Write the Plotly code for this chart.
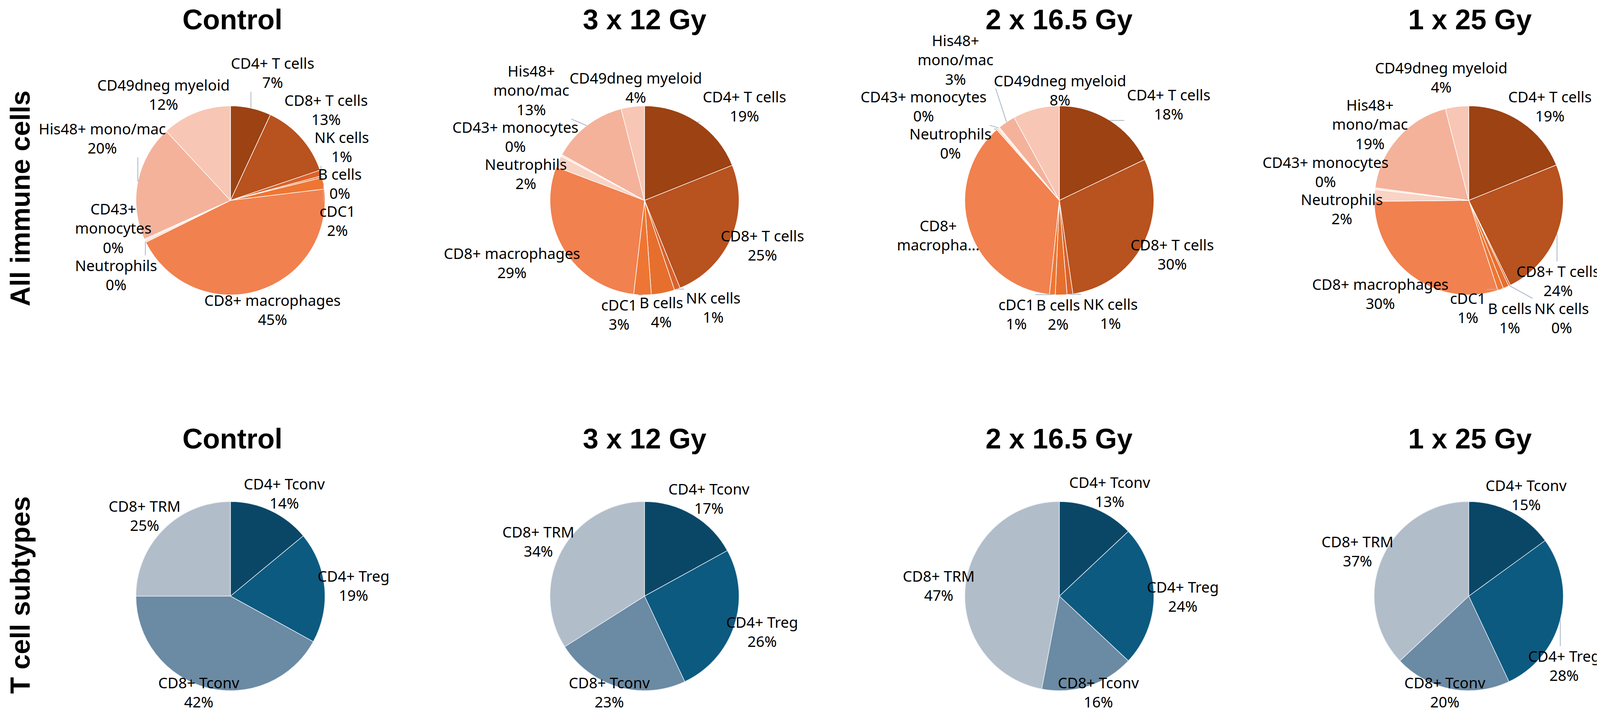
import numpy as np
import plotly.graph_objects as go

W, H = 4195, 1838

groups = ["Control", "3 x 12 Gy", "2 x 16.5 Gy", "1 x 25 Gy"]
row_titles = ["All immune cells", "T cell subtypes"]

immune_cells = ["CD4+ T cells", "CD8+ T cells", "NK cells", "B cells", "cDC1",
                "CD8+ macrophages", "Neutrophils", "CD43+ monocytes",
                "His48+ mono/mac", "CD49dneg myeloid"]
immune_control = [7, 13, 1, 0.3, 2, 45, 0.3, 0.3, 20, 12]
immune_3x12 = [19, 25, 1, 4, 3, 29, 2, 0.3, 13, 4]
immune_2x165 = [18, 30, 1, 2, 1, 37, 0.3, 0.3, 3, 8]
immune_1x25 = [19, 24, 0.3, 1, 1, 30, 2, 0.3, 19, 4]

# label text as printed on each chart ("..." = truncated, no percentage shown)
immune_text_control = ["CD4+ T cells", "CD8+ T cells", "NK cells", "B cells", "cDC1",
                       "CD8+ macrophages", "Neutrophils", "CD43+<br>monocytes",
                       "His48+ mono/mac", "CD49dneg myeloid"]
immune_text_3x12 = ["CD4+ T cells", "CD8+ T cells", "NK cells", "B cells", "cDC1",
                    "CD8+ macrophages", "Neutrophils", "CD43+ monocytes",
                    "His48+<br>mono/mac", "CD49dneg myeloid"]
immune_text_2x165 = ["CD4+ T cells", "CD8+ T cells", "NK cells", "B cells", "cDC1",
                     "CD8+<br>macropha...", "Neutrophils", "CD43+ monocytes",
                     "His48+<br>mono/mac", "CD49dneg myeloid"]
immune_text_1x25 = ["CD4+ T cells", "CD8+ T cells", "NK cells", "B cells", "cDC1",
                    "CD8+ macrophages", "Neutrophils", "CD43+ monocytes",
                    "His48+<br>mono/mac", "CD49dneg myeloid"]

tcell_types = ["CD4+ Tconv", "CD4+ Treg", "CD8+ Tconv", "CD8+ TRM"]
tcell_control = [14, 19, 42, 25]
tcell_3x12 = [17, 26, 23, 34]
tcell_2x165 = [13, 24, 16, 47]
tcell_1x25 = [15, 28, 20, 37]

immune_colors = ["#9C4213", "#B8521E", "#D9622A", "#E66F2E", "#EE7634",
                 "#F1814F", "#F9D3C4", "#FCE6DC", "#F4B29B", "#F8C6B4"]
tcell_colors = ["#0A4767", "#0C5A80", "#6B8AA3", "#B2BDCA"]

immune_vals = [immune_control, immune_3x12, immune_2x165, immune_1x25]
immune_texts = [immune_text_control, immune_text_3x12, immune_text_2x165, immune_text_1x25]
tcell_vals = [tcell_control, tcell_3x12, tcell_2x165, tcell_1x25]

col_cx = [582, 1642, 2704, 3752]
row_cy = [505, 1518]
R = 242
FS = 38
FONT = "Noto Sans, Open Sans, sans-serif"


def dom(cx, cy):
    return dict(x=[(cx - R) / W, (cx + R) / W],
                y=[1 - (cy + R) / H, 1 - (cy - R) / H])


def text_w(s):
    w = 0
    for ch in s:
        if ch in " il.":
            w += 0.27
        elif ch == "m":
            w += 0.94
        elif ch == "%":
            w += 0.84
        elif ch.isupper():
            w += 0.66
        else:
            w += 0.57
    return w * FS


def place_labels(cx, cy, vals, texts):
    # Excel-like "best fit": label just outside the slice middle, then de-overlap
    tot = float(sum(vals))
    cum = 0.0
    items = []
    for v, t in zip(vals, texts):
        th = 2 * np.pi * (cum + v / 2) / tot
        cum += v
        lines = t.split("<br>")
        if not t.endswith("..."):
            lines = lines + ["%.0f%%" % v]
        w = max(text_w(l) for l in lines) + 4
        h = len(lines) * 1.3 * FS
        s, c = np.sin(th), np.cos(th)
        x = cx + R * s + 0.75 * s * w / 2
        y = cy - R * c - c * h / 2
        items.append(dict(x=x, y=y, x0=x, y0=y, w=w, h=h, s=s, c=c,
                          ex=cx + R * s, ey=cy - R * c, text="<br>".join(lines)))
    pad = -4
    for _ in range(400):
        for i in range(len(items)):
            for j in range(i + 1, len(items)):
                a, b = items[i], items[j]
                ox = (a["w"] + b["w"]) / 2 + pad - abs(a["x"] - b["x"])
                oy = (a["h"] + b["h"]) / 2 + pad - abs(a["y"] - b["y"])
                if ox > 0 and oy > 0:
                    if (abs(a["c"]) + abs(b["c"])) / 2 > 0.85:
                        sg = 1 if a["ex"] >= b["ex"] else -1
                        a["x"] += sg * ox / 2
                        b["x"] -= sg * ox / 2
                    else:
                        sg = 1 if a["ey"] >= b["ey"] else -1
                        a["y"] += sg * oy / 2
                        b["y"] -= sg * oy / 2
        for it in items:
            px = min(max(cx, it["x"] - it["w"] / 2), it["x"] + it["w"] / 2)
            py = min(max(cy, it["y"] - it["h"] / 2), it["y"] + it["h"] / 2)
            dist = np.hypot(px - cx, py - cy)
            lim = R * 0.8
            if dist < lim:
                vx, vy = it["x"] - cx, it["y"] - cy
                n = np.hypot(vx, vy) or 1.0
                it["x"] += vx / n * (lim - dist)
                it["y"] += vy / n * (lim - dist)
            it["x"] = min(max(it["x"], it["w"] / 2 + 85), W - it["w"] / 2 - 100)
            it["y"] = min(max(it["y"], it["h"] / 2 + 70), H - it["h"] / 2 - 25)
    return items


fig = go.Figure()
label_font = dict(family=FONT, size=FS, color="black")
shapes = []
annots = []


def add_pie(labels, vals, texts, colors, cx, cy, line_color):
    fig.add_trace(go.Pie(
        labels=labels, values=vals, textinfo="none",
        marker=dict(colors=colors, line=dict(color=line_color, width=1.5)),
        sort=False, direction="clockwise", rotation=0,
        domain=dom(cx, cy), showlegend=False, hoverinfo="label+value",
    ))
    for it in place_labels(cx, cy, vals, texts):
        annots.append(dict(text=it["text"], x=it["x"] / W, y=1 - it["y"] / H,
                           xref="paper", yref="paper", showarrow=False,
                           xanchor="center", yanchor="middle", font=label_font))
        if np.hypot(it["x"] - it["x0"], it["y"] - it["y0"]) > 40:
            bx = min(max(it["ex"], it["x"] - it["w"] / 2), it["x"] + it["w"] / 2)
            by = min(max(it["ey"], it["y"] - it["h"] / 2), it["y"] + it["h"] / 2)
            shapes.append(dict(type="line", xref="paper", yref="paper",
                               x0=it["ex"] / W, y0=1 - it["ey"] / H,
                               x1=bx / W, y1=1 - by / H,
                               line=dict(color="#A9B6C3", width=2)))


for i in range(4):
    add_pie(immune_cells, immune_vals[i], immune_texts[i], immune_colors,
            col_cx[i], row_cy[0], "white")
    add_pie(tcell_types, tcell_vals[i], tcell_types, tcell_colors,
            col_cx[i], row_cy[1], "#E8EEF3")

title_x = [587, 1642, 2703, 3755]
title_y = [42, 1115]
title_font = dict(family="Liberation Sans, Arial, sans-serif", size=72, color="black")
for r in range(2):
    for i, g in enumerate(groups):
        annots.append(dict(text="<b>%s</b>" % g, x=title_x[i] / W, y=1 - title_y[r] / H,
                           xref="paper", yref="paper", showarrow=False,
                           xanchor="center", yanchor="middle", font=title_font))

row_y = [500, 1515]
for r, t in enumerate(row_titles):
    annots.append(dict(text="<b>%s</b>" % t, x=44 / W, y=1 - row_y[r] / H,
                       xref="paper", yref="paper", showarrow=False, textangle=-90,
                       xanchor="center", yanchor="middle",
                       font=dict(family="Liberation Sans, Arial, sans-serif", size=70,
                                 color="black")))

fig.update_layout(width=W, height=H, margin=dict(l=0, r=0, t=0, b=0),
                  paper_bgcolor="white", plot_bgcolor="white",
                  annotations=annots, shapes=shapes)

fig.write_html("out.html")
